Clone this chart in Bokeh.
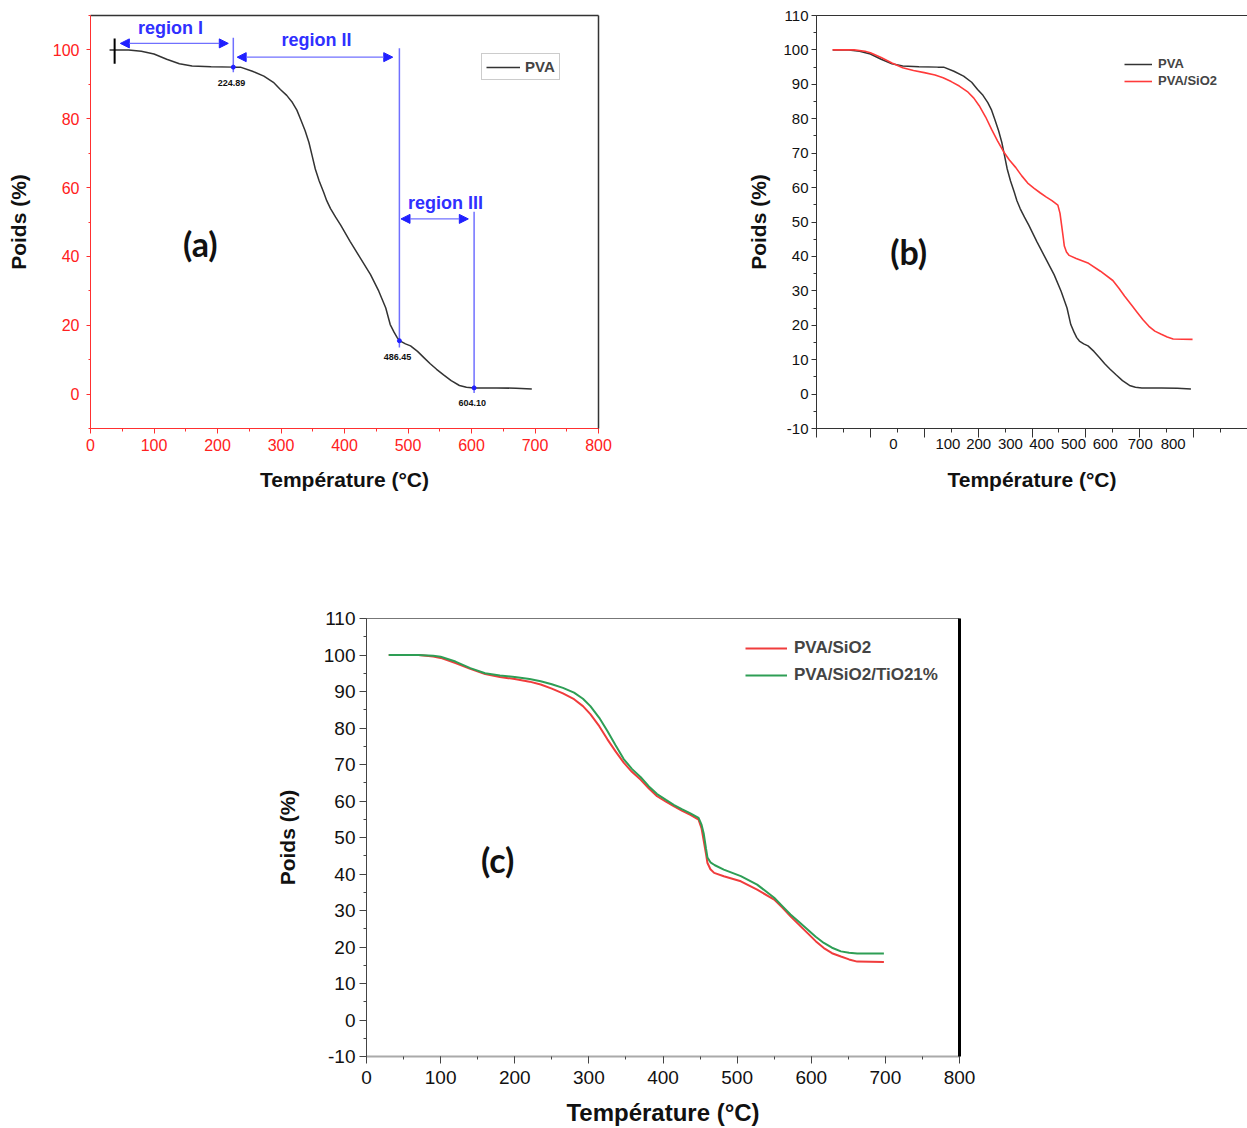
from bokeh.plotting import figure
from bokeh.models import (Range1d, FixedTicker, Legend, LegendItem, Label, Arrow,
                          NormalHead, Spacer, LinearAxis)
from bokeh.layouts import column, row
from bokeh.embed import file_html
from bokeh.resources import INLINE

# ---------------- data ----------------
temp_pva = [30, 60, 80, 100, 120, 140, 160, 190, 225, 236, 255, 273, 288, 299, 309, 318,
            325, 331, 338, 344, 349, 354, 360, 367, 372, 378, 386, 394, 409, 425, 441,
            454, 465, 472, 478, 483, 488, 496, 504, 515, 525, 535, 545, 556, 568, 581,
            592, 604, 640, 670, 695]
poids_pva = [100, 100, 99.6, 98.8, 97.3, 96.0, 95.3, 95.1, 95.0, 95.0, 93.8, 92.4, 90.6,
             88.5, 86.8, 84.7, 82.5, 79.8, 76.5, 73.1, 69.3, 65.4, 62.0, 58.7, 56.2, 53.9,
             51.4, 49.1, 44.3, 39.5, 34.7, 29.9, 25.0, 20.2, 18.0, 16.4, 15.4, 14.6, 14.0,
             12.4, 10.6, 8.8, 7.2, 5.6, 3.9, 2.5, 2.0, 1.8, 1.8, 1.7, 1.5]

temp_sio2 = [30, 70, 90, 100, 120, 140, 160, 180, 200, 220, 235, 250, 265, 280, 292, 302,
             314, 325, 336, 347, 358, 370, 381, 392, 404, 415, 426, 437, 448, 452, 455,
             458, 460, 464, 469, 482, 505, 527, 550, 561, 572, 584, 595, 606, 617, 628,
             640, 651, 662, 698]
poids_sio2 = [100, 100, 99.6, 99.2, 97.8, 96.2, 94.8, 94.0, 93.4, 92.7, 91.9, 90.8, 89.5,
              87.9, 86.0, 83.8, 80.5, 76.9, 73.6, 70.5, 68.0, 65.8, 63.4, 61.3, 59.8, 58.5,
              57.3, 56.2, 54.9, 52.5, 49.0, 45.5, 43.0, 41.3, 40.3, 39.4, 38.0, 35.7, 33.0,
              30.8, 28.4, 26.0, 23.8, 21.6, 19.7, 18.3, 17.4, 16.6, 16.0, 15.9]

temp_tio2 = [30, 70, 90, 100, 120, 140, 160, 180, 200, 220, 235, 250, 265, 280, 292, 302,
             314, 325, 336, 347, 358, 370, 381, 392, 404, 415, 426, 437, 448, 452, 455,
             458, 460, 464, 470, 482, 505, 527, 550, 561, 572, 584, 595, 606, 617, 628,
             640, 651, 662, 698]
poids_tio2 = [100, 100, 99.8, 99.5, 98.2, 96.4, 95.0, 94.4, 94.0, 93.4, 92.8, 92.0, 91.0,
              89.7, 88.0, 86.0, 82.8, 79.2, 75.3, 71.5, 68.8, 66.5, 64.0, 61.9, 60.3, 58.9,
              57.7, 56.6, 55.4, 53.5, 51.0, 47.0, 44.5, 43.2, 42.4, 41.2, 39.4, 37.1, 33.5,
              31.2, 28.9, 26.8, 24.8, 22.8, 21.1, 19.8, 18.8, 18.4, 18.2, 18.2]

# region annotations of panel (a)
region_names = ["region I", "region II", "region III"]
region_x0 = [47, 231, 489]
region_x1 = [217, 476, 595]
region_y = [101.9, 97.9, 50.9]
region_label_x = [126, 356, 559]
region_label_y = [106.5, 102.8, 55.5]
limit_temps = [224.89, 486.45, 604.10]
limit_texts = ["224.89", "486.45", "604.10"]
limit_top = [103.5, 100.5, 53.0]
limit_bottom = [93.5, 13.5, 0.3]
limit_poids = [95.0, 15.5, 1.8]
limit_text_y = [90.4, 10.9, -2.7]

x_ticks = [0, 100, 200, 300, 400, 500, 600, 700, 800]
x_minor = list(range(0, 801, 50))
y_ticks_a = [0, 20, 40, 60, 80, 100]
y_ticks_bc = list(range(-10, 111, 10))
# panel (b): tick labels as printed (shifted from their ticks in the original)
b_tick_text = ["0", "100", "200", "300", "400", "500", "600", "700", "800"]
b_tick_pos = [143, 244, 301, 360, 418, 477, 536, 601, 662]

FONT = "Liberation Sans"


def frame_axis(p, side, color, width):
    ax = LinearAxis(ticker=FixedTicker(ticks=[]), axis_line_color=color,
                    axis_line_width=width, major_tick_line_color=None,
                    minor_tick_line_color=None, major_label_text_color=None,
                    major_label_standoff=0, major_tick_out=0, major_tick_in=0,
                    minor_tick_out=0, minor_tick_in=0)
    p.add_layout(ax, side)


def style_axes(p, color, label_color, size):
    for ax in (p.xaxis[0], p.yaxis[0]):
        ax.axis_line_color = color
        ax.major_tick_line_color = color
        ax.minor_tick_line_color = color
        ax.major_label_text_color = label_color
        ax.major_label_text_font = FONT
        ax.major_label_text_font_size = size
        ax.axis_label_text_font = FONT
        ax.axis_label_text_font_style = "bold"
        ax.axis_label_text_color = "#111111"
        ax.major_tick_in = 0
        ax.minor_tick_in = 0


# ---------------- panel (a) ----------------
pa = figure(width=620, height=500, x_range=Range1d(0, 800), y_range=Range1d(-10, 110),
            output_backend="svg", toolbar_location=None,
            min_border_left=90, min_border_right=22, min_border_top=12,
            min_border_bottom=72)
pa.grid.visible = False
pa.outline_line_color = None
pa.xaxis.ticker = FixedTicker(ticks=x_ticks, minor_ticks=x_minor)
pa.yaxis.ticker = FixedTicker(ticks=y_ticks_a, minor_ticks=list(range(-10, 111, 10)))
style_axes(pa, "#ff3030", "#ff2020", "16px")
pa.xaxis.axis_label = "Température (°C)"
pa.yaxis.axis_label = "Poids (%)"
pa.xaxis.axis_label_text_font_size = "21px"
pa.yaxis.axis_label_text_font_size = "21px"
pa.xaxis.major_tick_out = 5
pa.xaxis.minor_tick_out = 3
pa.yaxis.major_tick_out = 4
pa.yaxis.minor_tick_out = 2
pa.xaxis.major_label_standoff = 5
pa.yaxis.major_label_standoff = 7
pa.xaxis.axis_label_standoff = 14
pa.yaxis.axis_label_standoff = 20
frame_axis(pa, "above", "#333333", 1.5)
frame_axis(pa, "right", "#333333", 1.5)

ra = pa.line(temp_pva, poids_pva, color="#333333", line_width=1.5)

# region annotations
pa.segment(x0=[38], y0=[103.3], x1=[38], y1=[96.0], color="black", line_width=2)
pa.segment(x0=limit_temps, y0=limit_top, x1=limit_temps, y1=limit_bottom,
           color="#7070ff", line_width=1.5)
pa.scatter(limit_temps, limit_poids, size=4, color="#2020ff")
for x0, x1, y in zip(region_x0, region_x1, region_y):
    pa.add_layout(Arrow(x_start=x0, y_start=y, x_end=x1, y_end=y,
                        line_color="#7070ff", line_width=1.2,
                        start=NormalHead(size=9, fill_color="#2020ff", line_color="#2020ff"),
                        end=NormalHead(size=9, fill_color="#2020ff", line_color="#2020ff")))
for name, x, y in zip(region_names, region_label_x, region_label_y):
    pa.add_layout(Label(x=x, y=y, text=name, text_font=FONT, text_font_style="bold",
                        text_font_size="18px", text_color="#3030ff",
                        text_align="center", text_baseline="middle"))
for x, t, y in zip(limit_temps, limit_texts, limit_text_y):
    pa.add_layout(Label(x=x - 3, y=y, text=t, text_font=FONT, text_font_style="bold",
                        text_font_size="9px", text_color="#111111",
                        text_align="center", text_baseline="middle"))
pa.add_layout(Label(x=173, y=43.8, text="(a)", text_font="Lato", text_font_style="bold",
                    text_font_size="34px", text_color="#111111",
                    text_align="center", text_baseline="middle"))
leg_a = Legend(items=[LegendItem(label="PVA", renderers=[ra])], location=(391, 348),
               border_line_color="#999999", border_line_width=1.5, padding=4, margin=0,
               label_standoff=5, glyph_width=34, glyph_height=14, spacing=0,
               label_text_font=FONT, label_text_font_style="bold",
               label_text_font_size="15px", background_fill_color="white")
pa.add_layout(leg_a)

# ---------------- panel (b) ----------------
pb = figure(width=507, height=500, x_range=Range1d(0, 800), y_range=Range1d(-10, 110),
            output_backend="svg", toolbar_location=None,
            min_border_left=76, min_border_right=0, min_border_top=15,
            min_border_bottom=72)
pb.grid.visible = False
pb.outline_line_color = None
pb.xaxis.ticker = FixedTicker(ticks=x_ticks, minor_ticks=x_minor)
pb.yaxis.ticker = FixedTicker(ticks=y_ticks_bc, minor_ticks=list(range(-10, 111, 5)))
style_axes(pb, "#333333", "#111111", "15px")
pb.yaxis.major_label_overrides = {-10: "-10"}
# inner bottom axis: tick marks only
pb.xaxis.major_label_text_color = None
pb.xaxis.major_label_standoff = 0
pb.xaxis.major_tick_out = 9
pb.xaxis.minor_tick_out = 4
# outer bottom axis: the printed (shifted) tick labels and the axis title
xb_labels = LinearAxis(ticker=FixedTicker(ticks=b_tick_pos),
                       major_label_overrides=dict(zip(b_tick_pos, b_tick_text)),
                       axis_line_color=None, major_tick_line_color=None,
                       minor_tick_line_color=None, major_tick_out=0, major_tick_in=0,
                       minor_tick_out=0, minor_tick_in=0, major_label_standoff=1,
                       major_label_text_font=FONT, major_label_text_font_size="15px",
                       major_label_text_color="#111111",
                       axis_label="Température (°C)", axis_label_text_font=FONT,
                       axis_label_text_font_style="bold", axis_label_text_font_size="21px",
                       axis_label_text_color="#111111", axis_label_standoff=16)
pb.add_layout(xb_labels, "below")
pb.yaxis.axis_label = "Poids (%)"
pb.yaxis.axis_label_text_font_size = "21px"
pb.yaxis.major_tick_out = 5
pb.yaxis.minor_tick_out = 3
pb.yaxis.major_label_standoff = 3
pb.yaxis.axis_label_standoff = 10
frame_axis(pb, "above", "#333333", 1.2)

rb1 = pb.line(temp_pva, poids_pva, color="#333333", line_width=1.5)
rb2 = pb.line(temp_sio2, poids_sio2, color="#ff3a3a", line_width=1.6)
pb.add_layout(Label(x=171, y=41.4, text="(b)", text_font="Lato", text_font_style="bold",
                    text_font_size="34px", text_color="#111111",
                    text_align="center", text_baseline="middle"))
leg_b = Legend(items=[LegendItem(label="PVA", renderers=[rb1]),
                      LegendItem(label="PVA/SiO2", renderers=[rb2])],
               location=(308, 340), border_line_color=None, background_fill_alpha=0,
               padding=0, margin=0, label_standoff=6, glyph_width=28, glyph_height=14,
               spacing=2, label_text_font=FONT, label_text_font_style="bold",
               label_text_font_size="13px")
pb.add_layout(leg_b)

# ---------------- panel (c) ----------------
pc = figure(width=710, height=528, x_range=Range1d(0, 800), y_range=Range1d(-10, 110),
            output_backend="svg", toolbar_location=None,
            min_border_left=96, min_border_right=21, min_border_top=18,
            min_border_bottom=72)
pc.grid.visible = False
pc.outline_line_color = None
pc.xaxis.ticker = FixedTicker(ticks=x_ticks, minor_ticks=x_minor)
pc.yaxis.ticker = FixedTicker(ticks=y_ticks_bc, minor_ticks=list(range(-10, 111, 5)))
style_axes(pc, "#444444", "#111111", "19px")
pc.yaxis.major_label_overrides = {-10: "-10"}
pc.xaxis.axis_line_color = "#aaaaaa"
pc.xaxis.axis_line_width = 2
pc.xaxis.axis_label = "Température (°C)"
pc.yaxis.axis_label = "Poids (%)"
pc.xaxis.axis_label_text_font_size = "24px"
pc.yaxis.axis_label_text_font_size = "21px"
pc.xaxis.major_tick_out = 7
pc.xaxis.minor_tick_out = 3
pc.yaxis.major_tick_out = 7
pc.yaxis.minor_tick_out = 3
pc.xaxis.major_label_standoff = 7
pc.yaxis.major_label_standoff = 4
pc.xaxis.axis_label_standoff = 12
pc.yaxis.axis_label_standoff = 22
frame_axis(pc, "above", "#777777", 1)
frame_axis(pc, "right", "#000000", 3)

rc1 = pc.line(temp_sio2, poids_sio2, color="#f03c3c", line_width=2)
rc2 = pc.line(temp_tio2, poids_tio2, color="#2e9e55", line_width=2)
pc.add_layout(Label(x=177, y=44, text="(c)", text_font="Lato", text_font_style="bold",
                    text_font_size="34px", text_color="#111111",
                    text_align="center", text_baseline="middle"))
leg_c = Legend(items=[LegendItem(label="PVA/SiO2", renderers=[rc1]),
                      LegendItem(label="PVA/SiO2/TiO21%", renderers=[rc2])],
               location=(379, 371), border_line_color=None, background_fill_alpha=0,
               padding=0, margin=0, label_standoff=7, glyph_width=42, glyph_height=16,
               spacing=7, label_text_font=FONT, label_text_font_style="bold",
               label_text_font_size="17px")
pc.add_layout(leg_c)

layout = column(row(pa, Spacer(width=120, height=500), pb),
                Spacer(width=1247, height=100),
                row(Spacer(width=270, height=528), pc))

open("out.html", "w").write(file_html(layout, INLINE))
